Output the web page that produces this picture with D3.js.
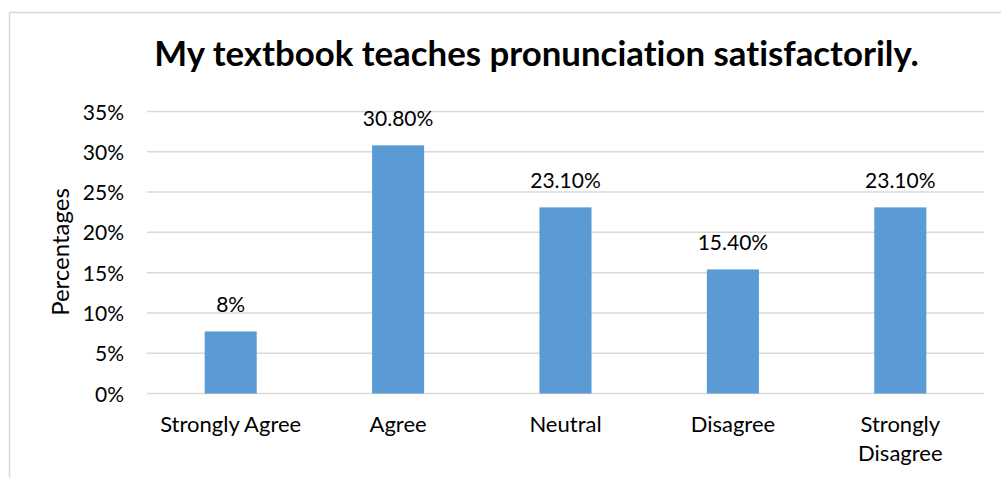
<!DOCTYPE html>
<html>
<head>
<meta charset="utf-8">
<script src="https://cdn.jsdelivr.net/npm/d3@7"></script>
<style>
  html, body { margin: 0; padding: 0; background: #fff; }
  svg { display: block; }
  text { font-family: Lato, "Open Sans", sans-serif; fill: #000; font-variant-ligatures: none; font-feature-settings: "liga" 0, "clig" 0, "dlig" 0; }
</style>
</head>
<body>
<svg id="chart" width="1001" height="478"></svg>
<script>
const categories = ["Strongly Agree", "Agree", "Neutral", "Disagree", "Strongly Disagree"];
const values = [7.7, 30.8, 23.1, 15.4, 23.1];
const valueLabels = ["8%", "30.80%", "23.10%", "15.40%", "23.10%"];
const yTicks = [0, 5, 10, 15, 20, 25, 30, 35];
const titleText = "My textbook teaches pronunciation satisfactorily.";
const yAxisTitle = "Percentages";

const svg = d3.select("#chart");

// frame
svg.append("rect")
  .attr("x", 9.5).attr("y", 12.5)
  .attr("width", 1000).attr("height", 500)
  .attr("fill", "none").attr("stroke", "#D9D9D9").attr("stroke-width", 1.5);

const x = d3.scaleBand().domain(categories).range([147, 984])
  .paddingInner(0.689).paddingOuter(0.3445);
const y = d3.scaleLinear().domain([0, 35]).range([393.5, 111.5]);

// gridlines
svg.append("g").selectAll("line").data(yTicks).join("line")
  .attr("x1", 147).attr("x2", 984)
  .attr("y1", d => y(d)).attr("y2", d => y(d))
  .attr("stroke", "#D9D9D9").attr("stroke-width", 1.5);

// y axis via d3 axis (labels only)
const yAxis = svg.append("g").attr("transform", "translate(132,0)")
  .call(d3.axisLeft(y).tickValues(yTicks).tickFormat(d => d + "%").tickSize(0).tickPadding(0));
yAxis.select(".domain").remove();
yAxis.selectAll("text").attr("font-size", 21).attr("fill", "#000")
  .style("font-family", "Lato, 'Open Sans', sans-serif").attr("x", -8).attr("dy", "0.36em");

// bars
svg.append("g").selectAll("rect").data(values).join("rect")
  .attr("x", (d, i) => x(categories[i]))
  .attr("width", x.bandwidth())
  .attr("y", d => y(d))
  .attr("height", d => y(0) - y(d))
  .attr("fill", "#5B9BD5");

// value labels
svg.append("g").selectAll("text").data(values).join("text")
  .attr("x", (d, i) => x(categories[i]) + x.bandwidth() / 2)
  .attr("y", d => y(d) - 19)
  .attr("text-anchor", "middle")
  .attr("font-size", 21)
  .text((d, i) => valueLabels[i]);

// x axis labels
const xAxis = svg.append("g").attr("transform", "translate(0,393.5)")
  .call(d3.axisBottom(x).tickSize(0).tickPadding(0));
xAxis.select(".domain").remove();
xAxis.selectAll("text").remove();
xAxis.selectAll(".tick").each(function(d) {
  const g = d3.select(this);
  const words = d === "Strongly Disagree" ? ["Strongly", "Disagree"] : [d];
  words.forEach((w, k) => {
    g.append("text")
      .attr("x", 0).attr("y", 38.5 + k * 28.5)
      .attr("text-anchor", "middle")
      .attr("font-size", 22)
      .style("font-family", "Lato, 'Open Sans', sans-serif")
      .attr("fill", "#000")
      .text(w);
  });
});

// y axis title
svg.append("text")
  .attr("transform", "translate(69,252) rotate(-90)")
  .attr("text-anchor", "middle")
  .attr("font-size", 24)
  .text(yAxisTitle);

// chart title
svg.append("text")
  .attr("x", 536.5).attr("y", 66)
  .attr("text-anchor", "middle")
  .attr("font-size", 34.8)
  .attr("font-weight", "bold")
  .text(titleText);
</script>
</body>
</html>
